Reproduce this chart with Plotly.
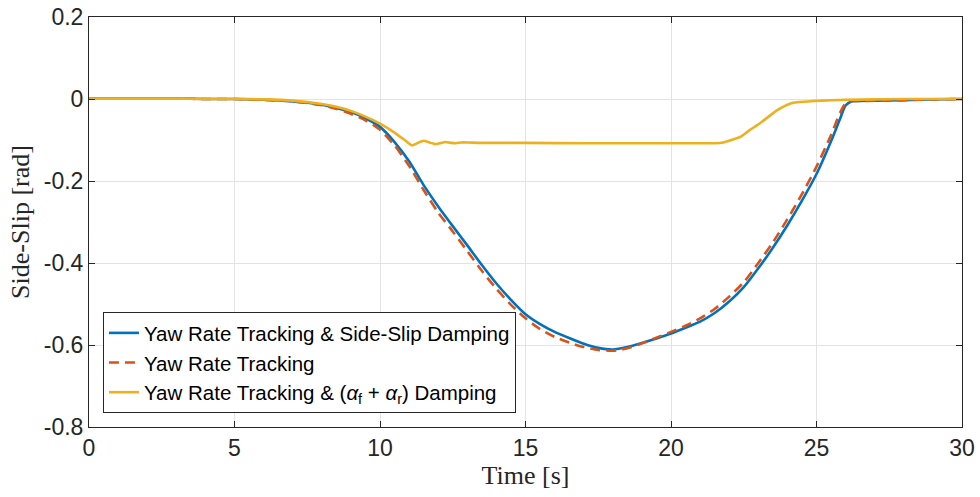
import plotly.graph_objects as go

# ---- data ----
t_blue = [0, 1, 2, 3, 4, 5, 6, 7, 8, 8.5, 9, 9.5, 10, 10.5, 11, 11.5, 12, 12.5, 13, 13.5,
          14, 14.5, 15, 15.5, 16, 16.5, 17, 17.5, 18, 18.5, 19, 19.5, 20, 20.5, 21, 21.5,
          22, 22.5, 23, 23.5, 24, 24.5, 25, 25.5, 25.8, 26.0, 26.2, 26.5, 27, 28, 29, 30]
side_slip_damping = [0.001, 0.001, 0.001, 0.001, 0.0, 0.0, -0.002, -0.006, -0.014, -0.022, -0.032,
                     -0.047, -0.068, -0.105, -0.152, -0.210, -0.262, -0.310, -0.357, -0.405,
                     -0.450, -0.490, -0.525, -0.549, -0.568, -0.583, -0.597, -0.607, -0.611,
                     -0.605, -0.595, -0.584, -0.572, -0.558, -0.543, -0.522, -0.494, -0.459,
                     -0.413, -0.363, -0.308, -0.248, -0.183, -0.103, -0.050, -0.016, -0.006,
                     -0.005, -0.004, -0.003, -0.001, 0.0]

t_red = [0, 1, 2, 3, 4, 5, 6, 7, 8, 8.5, 9, 9.5, 10, 10.5, 11, 11.5, 12, 12.5, 13, 13.5,
         14, 14.5, 15, 15.5, 16, 16.5, 17, 17.5, 18, 18.5, 19, 19.5, 20, 20.5, 21, 21.5,
         22, 22.5, 23, 23.5, 24, 24.5, 25, 25.5, 25.8, 26.0, 26.2, 26.5, 27, 28, 29, 30]
yaw_tracking = [0.001, 0.001, 0.001, 0.001, 0.0, 0.0, -0.002, -0.006, -0.015, -0.024, -0.036,
                -0.052, -0.075, -0.113, -0.163, -0.222, -0.277, -0.323, -0.371, -0.419,
                -0.463, -0.502, -0.535, -0.561, -0.580, -0.594, -0.605, -0.612, -0.614,
                -0.608, -0.596, -0.582, -0.568, -0.553, -0.535, -0.512, -0.482, -0.447,
                -0.400, -0.350, -0.293, -0.232, -0.165, -0.088, -0.035, -0.010, -0.005,
                -0.005, -0.004, -0.003, -0.001, 0.0]

t_yellow = [0, 1, 2, 3, 4, 5, 6, 7, 8, 8.5, 9, 9.5, 10, 10.5, 10.9, 11.1, 11.3, 11.5, 11.7,
            11.9, 12.05, 12.25, 12.45, 12.6, 12.8, 13.0, 13.5, 15, 17, 19, 21, 21.5, 21.8,
            22.0, 22.4, 22.7, 23.06, 23.5, 23.75, 24.2, 24.9, 25.5, 26, 27, 28, 29, 30]
alpha_damping = [0.001, 0.001, 0.001, 0.001, 0.0, 0.0, -0.001, -0.004, -0.012, -0.019, -0.029,
                 -0.043, -0.060, -0.082, -0.103, -0.113, -0.107, -0.102, -0.106, -0.110,
                 -0.108, -0.105, -0.107, -0.108, -0.106, -0.106, -0.107, -0.107, -0.108,
                 -0.108, -0.108, -0.108, -0.106, -0.102, -0.092, -0.076, -0.059, -0.035,
                 -0.023, -0.009, -0.005, -0.003, -0.002, -0.001, 0.0, 0.0, 0.0]

x_ticks = [0, 5, 10, 15, 20, 25, 30]
x_ticktext = ["0", "5", "10", "15", "20", "25", "30"]
y_ticks = [0.2, 0, -0.2, -0.4, -0.6, -0.8]
y_ticktext = ["0.2", "0", "-0.2", "-0.4", "-0.6", "-0.8"]

names = ["Yaw Rate Tracking & Side-Slip Damping",
         "Yaw Rate Tracking",
         "Yaw Rate Tracking & (<i>α</i><sub>f</sub> + <i>α</i><sub>r</sub>) Damping"]

fig = go.Figure()
fig.add_trace(go.Scatter(x=t_blue, y=side_slip_damping, mode="lines", name=names[0],
                         line=dict(color="#0072BD", width=2.6, shape="spline", smoothing=0.6)))
fig.add_trace(go.Scatter(x=t_red, y=yaw_tracking, mode="lines", name=names[1],
                         line=dict(color="#D95319", width=2.6, dash="10px,6px",
                                   shape="spline", smoothing=0.6)))
fig.add_trace(go.Scatter(x=t_yellow, y=alpha_damping, mode="lines", name=names[2],
                         line=dict(color="#EDB120", width=2.6, shape="spline", smoothing=0.5)))

axis_common = dict(showgrid=True, gridcolor="#e3e3e3", gridwidth=1, zeroline=False,
                   showline=True, linecolor="#262626", linewidth=1, mirror="ticks",
                   ticks="inside", ticklen=6, tickcolor="#262626", automargin=False,
                   tickfont=dict(family="Liberation Sans, Arial", size=23, color="#262626"))

title_font = dict(family="Liberation Serif, Times New Roman", size=26, color="#262626")

fig.update_xaxes(range=[0, 30], tickvals=x_ticks, ticktext=x_ticktext,
                 title=dict(text="Time [s]", standoff=4, font=title_font),
                 **axis_common)
fig.update_yaxes(range=[-0.8, 0.2], tickvals=y_ticks, ticktext=y_ticktext,
                 title=dict(text="Side-Slip [rad]", standoff=6, font=title_font),
                 **axis_common)

fig.update_layout(
    width=980, height=497,
    margin=dict(l=89, r=18, t=17, b=70),
    plot_bgcolor="white", paper_bgcolor="white",
    legend=dict(x=0.016, y=0.034, xanchor="left", yanchor="bottom",
                bgcolor="white", bordercolor="#262626", borderwidth=1,
                font=dict(family="Liberation Sans, Arial", size=20.5, color="#000000"),
                tracegroupgap=0, itemwidth=30),
    showlegend=True,
)

fig.write_html("out.html", config={"displayModeBar": False},
               post_script="document.body.style.margin='0';document.body.style.overflow='hidden';")
